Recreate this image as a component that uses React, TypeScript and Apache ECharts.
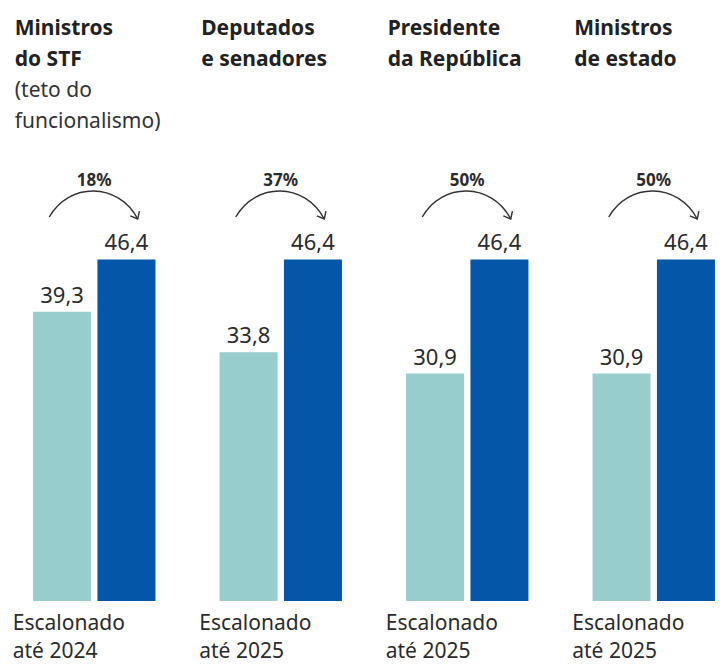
import React, { useEffect, useRef } from "react";
import * as echarts from "echarts";

const titleBold: string[][] = [
  ["Ministros", "do STF"],
  ["Deputados", "e senadores"],
  ["Presidente", "da República"],
  ["Ministros", "de estado"],
];
const titleNotes: string[][] = [["(teto do", "funcionalismo)"], [], [], []];
const periodLabels: string[] = [
  "Escalonado\naté 2024",
  "Escalonado\naté 2025",
  "Escalonado\naté 2025",
  "Escalonado\naté 2025",
];
const beforeValues: number[] = [39.3, 33.8, 30.9, 30.9];
const afterValues: number[] = [46.4, 46.4, 46.4, 46.4];
const increaseLabels: string[] = ["18%", "37%", "50%", "50%"];

const FONT = "'Noto Sans', 'Open Sans', sans-serif";
const LIGHT = "#97CDCC";
const DARK = "#0457A8";
const TEXT = "#2b2b2b";

function fmt(v: number): string {
  return v.toFixed(1).replace(".", ",");
}

export default function App() {
  const ref = useRef<HTMLDivElement>(null);
  useEffect(() => {
    document.body.style.margin = "0";
    if (!ref.current) return;
    const chart = echarts.init(ref.current, undefined, { renderer: "svg" });
    const labelCfg = {
      show: true,
      position: "top",
      distance: 7,
      fontSize: 22,
      fontFamily: FONT,
      color: TEXT,
      formatter: (p: any) => fmt(p.value[1]),
    };
    chart.setOption({
      animation: false,
      grid: { left: 1, right: 0, top: 159.4, bottom: 65 },
      xAxis: {
        type: "value",
        min: -0.5,
        max: 3.382,
        show: false,
        splitLine: { show: false },
      },
      yAxis: { type: "value", min: 0, max: 60, show: false, splitLine: { show: false } },
      series: [
        {
          type: "bar",
          data: beforeValues.map((v, i) => [i, v]),
          barWidth: 58,
          barGap: "11%",
          itemStyle: { color: LIGHT },
          label: labelCfg,
        },
        {
          type: "bar",
          data: afterValues.map((v, i) => [i, v]),
          barWidth: 58,
          barGap: "11%",
          itemStyle: { color: DARK },
          label: labelCfg,
        },
      ],
    });

    const graphics: any[] = [];
    periodLabels.forEach((lab, i) => {
      const c = chart.convertToPixel({ xAxisIndex: 0 }, i) as number;
      const left = c - 81.5;
      const richText = [
        ...titleBold[i].map((t) => `{b|${t}}`),
        ...titleNotes[i].map((t) => `{r|${t}}`),
      ].join("\n");
      graphics.push({
        type: "text",
        x: left + 2,
        y: 11,
        style: {
          text: richText,
          fill: "#222",
          align: "left",
          verticalAlign: "top",
          rich: {
            b: { fontSize: 21, fontWeight: "bold", fontFamily: FONT, lineHeight: 31, fill: "#222" },
            r: { fontSize: 21, fontWeight: "normal", fontFamily: FONT, lineHeight: 31, fill: "#333" },
          },
        },
      });
      graphics.push({
        type: "text",
        x: left,
        y: 608,
        style: {
          text: lab,
          fontSize: 21,
          fontFamily: FONT,
          lineHeight: 28,
          fill: TEXT,
          align: "left",
          verticalAlign: "top",
        },
      });
      graphics.push({
        type: "text",
        x: c,
        y: 179.5,
        style: {
          text: increaseLabels[i],
          fontSize: 17,
          fontWeight: "bold",
          fontFamily: FONT,
          fill: TEXT,
          align: "center",
          verticalAlign: "middle",
        },
      });
      const x1 = c - 45, y1 = 217;
      const x2 = c + 43.5, y2 = 219;
      const cp1x = c - 25, cp1y = 182;
      const cp2x = c + 24, cp2y = 182;
      graphics.push({
        type: "bezierCurve",
        shape: { x1, y1, x2, y2, cpx1: cp1x, cpy1: cp1y, cpx2: cp2x, cpy2: cp2y },
        style: { stroke: "#333", lineWidth: 1.4, fill: "none" },
      });
      const dx = x2 - cp2x, dy = y2 - cp2y;
      const len = Math.sqrt(dx * dx + dy * dy);
      const bx = -dx / len, by = -dy / len;
      const ang = (40 * Math.PI) / 180;
      const L = 8;
      const rot = (a: number) => [
        x2 + L * (bx * Math.cos(a) - by * Math.sin(a)),
        y2 + L * (bx * Math.sin(a) + by * Math.cos(a)),
      ];
      graphics.push({
        type: "polyline",
        shape: { points: [rot(ang), [x2, y2], rot(-ang)] },
        style: { stroke: "#333", lineWidth: 1.4, fill: "none" },
      });
    });
    chart.setOption({ graphic: graphics });
    return () => chart.dispose();
  }, []);
  return <div ref={ref} style={{ width: 725, height: 666 }} />;
}
